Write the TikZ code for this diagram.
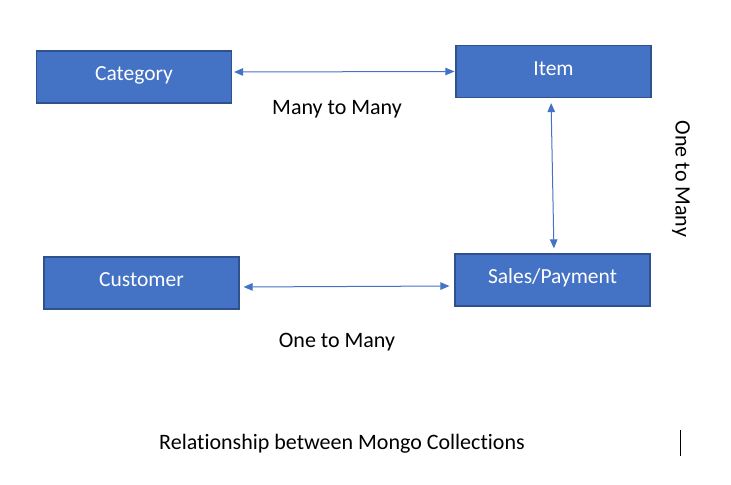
\documentclass[tikz,border=0pt]{standalone}
\usepackage{fontspec}
\setmainfont{Carlito}[Ligatures=NoCommon]
\usetikzlibrary{arrows.meta}
\definecolor{boxfill}{HTML}{4472C4}
\definecolor{boxline}{HTML}{2F528F}
\definecolor{arrowc}{HTML}{4472C4}
\tikzset{
  coll/.style={draw=boxline, line width=1.2bp, fill=boxfill, text=white,
    minimum width=195bp, minimum height=52bp, inner sep=0pt,
    text height=16bp, text depth=8.6bp,
    font=\fontsize{21.5bp}{25bp}\selectfont},
  rel/.style={draw=arrowc, line width=1bp, {Triangle[length=9bp,width=7.5bp]}-{Triangle[length=9bp,width=7.5bp]}},
  lbl/.style={text=black, inner sep=0pt, font=\fontsize{22bp}{26bp}\selectfont}
}
\begin{document}
\begin{tikzpicture}[x=1bp,y=-1bp]
\useasboundingbox[fill=white] (0,0) rectangle (731,485);
\node[coll] (cat) at (134,77) {Category};
\node[coll] (item) at (553.5,71.5) {Item};
\node[coll] (cust) at (141.5,283) {Customer};
\node[coll] (sales) at (552.5,280) {Sales/Payment};
\draw[rel, shorten <=2bp, shorten >=1bp] ([yshift=5bp]cat.east) -- ([yshift=0bp]item.west);
\draw[rel, shorten <=4bp, shorten >=5bp] ([yshift=-4bp]cust.east) -- ([yshift=-6bp]sales.west);
\draw[rel, shorten <=5bp, shorten >=5bp] ([xshift=-2.5bp]item.south) -- ([xshift=1.5bp]sales.north);
\node[lbl] (mm) at (337,109) {Many to Many};
\node[lbl] (om) at (337,342) {One to Many};
\node[lbl, rotate=-90] (omv) at (681,179) {One to Many};
\node[lbl] (cap) at (342,444) {Relationship between Mongo Collections};
\coordinate (bar1) at (680.5,430);
\coordinate (bar2) at (680.5,456);
\draw[black, line width=1bp] (bar1) -- (bar2);
\end{tikzpicture}
\end{document}
